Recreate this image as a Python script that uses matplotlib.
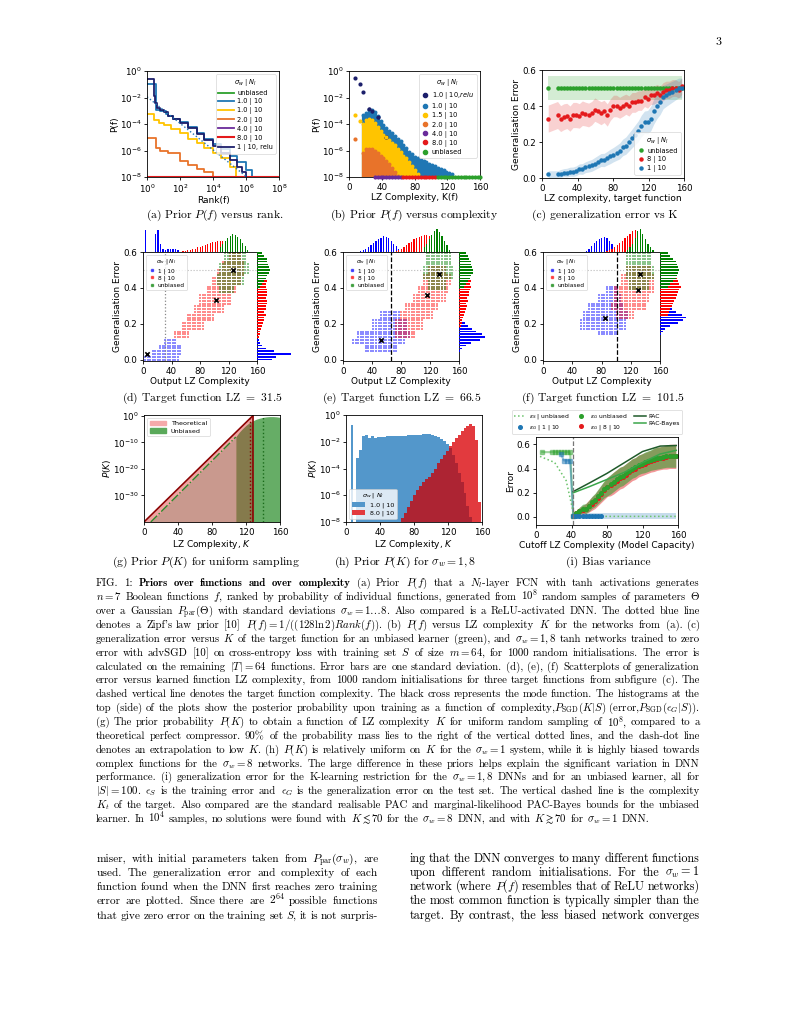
import numpy as np
import matplotlib
matplotlib.use("Agg")
import matplotlib.pyplot as plt
from matplotlib.lines import Line2D
from matplotlib.patches import Patch

W, H = 791, 1024

# ---------------- DATA ----------------
# (a) prior P(f) versus rank
a_rank_unb = [1, 1e8]
a_p_unb = [1e-8, 1e-8]
a_rank_s1 = [1, 3.5, 6, 14, 20, 40, 100, 300, 1e3, 3e3, 1e4, 3e4, 1e5, 3e5, 1e6, 2.4e6]
a_p_s1 = [0.1, 1.2e-3, 1e-3, 6e-4, 4e-4, 2.5e-4, 1.3e-4, 6e-5, 2.2e-5, 8e-6, 3e-6, 1.2e-6, 4e-7, 1.3e-7, 3.5e-8, 1e-8]
a_rank_s15 = [1, 2.5, 5, 10, 30, 100, 300, 1e3, 3e3, 1e4, 3e4, 1e5, 2.5e5]
a_p_s15 = [6e-4, 2e-4, 1.2e-4, 8e-5, 4e-5, 2e-5, 8e-6, 4e-6, 1.5e-6, 7e-7, 2.5e-7, 6e-8, 1e-8]
a_rank_s2 = [1, 3.5, 6, 20, 100, 300, 1e3, 3e3, 1e4]
a_p_s2 = [9e-6, 1.5e-6, 1e-6, 6e-7, 1.5e-7, 8e-8, 4e-8, 2.5e-8, 1e-8]
a_rank_s4 = [1, 5e6]
a_p_s4 = [1e-8, 1e-8]
a_rank_s8 = [1, 1e8]
a_p_s8 = [1e-8, 1e-8]
a_rank_relu = [1, 2.5, 3.2, 4, 6, 10, 20, 40, 100, 300, 1e3, 3e3, 1e4, 3e4, 1e5, 3e5, 6e5, 1e6]
a_p_relu = [0.25, 1.2e-2, 4e-3, 1.5e-3, 1.2e-3, 8e-4, 4e-4, 2.5e-4, 1.2e-4, 5e-5, 1.8e-5, 6e-6, 2.2e-6, 7e-7, 2e-7, 6e-8, 2.5e-8, 1e-8]
zipf_rank = [1, 1e6]
zipf_p = [1.13e-2, 1.13e-8]
a_labels = ["unbiased", "1.0 | 10", "1.0 | 10", "2.0 | 10", "4.0 | 10", "8.0 | 10", "1 | 10, relu"]

# (b) prior P(f) versus LZ complexity (upper envelopes, log10 P)
b_relu_K = [7, 14, 17.5, 24.5, 28, 35, 45.5]
b_relu_logp = [-0.55, -1.0, -1.6, -2.9, -3.0, -3.5, -5.0]
b_s1_K = [17.5, 21, 24.5, 28, 31.5, 35, 38.5, 42, 45.5, 49, 52.5, 56, 59.5, 63, 66.5, 70, 73.5, 77,
          80.5, 84, 87.5, 91, 94.5, 98, 101.5, 105, 108.5, 112, 115.5, 119, 122.5, 126]
b_s1_logp = [-3.3, -3.2, -2.95, -2.95, -3.1, -3.4, -3.8, -4.1, -4.3, -4.5, -4.7, -4.9, -5.1, -5.3, -5.6,
             -5.8, -6.1, -6.3, -6.5, -6.6, -6.7, -6.8, -6.9, -7.0, -7.1, -7.2, -7.3, -7.4, -7.5, -7.6, -7.7, -7.8]
b_s15_K = [7, 14, 17.5, 21, 24.5, 28, 31.5, 35, 38.5, 42, 45.5, 49, 52.5, 56, 59.5, 63, 66.5, 70, 73.5,
           77, 80.5, 84]
b_s15_logp = [-3.3, -3.75, -4.0, -3.7, -3.65, -3.7, -3.9, -4.2, -4.5, -4.8, -5.0, -5.2, -5.4, -5.6, -5.9,
              -6.1, -6.4, -6.6, -6.9, -7.2, -7.5, -7.8]
b_s2_K = [7, 17.5, 21, 24.5, 28, 31.5, 35, 38.5, 42, 45.5, 49, 52.5, 56, 59.5]
b_s2_logp = [-5.15, -6.2, -5.9, -5.85, -5.9, -6.0, -6.2, -6.4, -6.6, -6.8, -7.0, -7.3, -7.6, -7.9]
b_s4_K = [31.5, 35, 38.5, 42, 45.5, 49, 52.5, 56, 59.5, 63]
b_s8_K = [66.5, 70, 73.5, 77, 80.5, 84, 87.5, 91, 94.5, 98, 101.5, 105]
b_unb_K = [108.5, 112, 115.5, 119, 122.5, 126, 129.5, 133, 136.5, 140, 143.5, 147, 150.5, 154, 157.5, 160]
b_labels = ["1.0 | 10,$relu$", "1.0 | 10", "1.5 | 10", "2.0 | 10", "4.0 | 10", "8.0 | 10", "unbiased"]

# (c) generalization error vs target complexity
c_K = [7, 17.5, 21, 24.5, 28, 31.5, 35, 38.5, 42, 45.5, 49, 52.5, 56, 59.5, 63, 66.5, 70, 73.5, 77, 80.5,
       84, 87.5, 91, 94.5, 98, 101.5, 105, 108.5, 112, 115.5, 119, 122.5, 126, 129.5, 133, 136.5, 140,
       143.5, 147, 150.5, 154, 157.5]
c_unb = [0.5] * 42
c_unb_sd = [0.065] * 42
c_s8 = [0.33, 0.35, 0.33, 0.34, 0.345, 0.33, 0.35, 0.35, 0.345, 0.36, 0.355, 0.35, 0.36, 0.38, 0.37, 0.36,
        0.37, 0.35, 0.38, 0.40, 0.40, 0.39, 0.40, 0.41, 0.40, 0.42, 0.42, 0.43, 0.43, 0.45, 0.44, 0.46,
        0.46, 0.47, 0.46, 0.48, 0.49, 0.49, 0.50, 0.50, 0.49, 0.51]
c_s8_sd = [0.075, 0.075, 0.072, 0.072, 0.07, 0.07, 0.07, 0.07, 0.068, 0.068, 0.066, 0.066, 0.065, 0.065,
           0.064, 0.064, 0.062, 0.062, 0.06, 0.06, 0.06, 0.058, 0.058, 0.056, 0.056, 0.055, 0.055, 0.054,
           0.054, 0.053, 0.052, 0.052, 0.05, 0.05, 0.05, 0.05, 0.048, 0.048, 0.047, 0.046, 0.046, 0.045]
c_s1 = [0.02, 0.02, 0.025, 0.03, 0.03, 0.035, 0.035, 0.04, 0.05, 0.05, 0.06, 0.065, 0.07, 0.08, 0.09, 0.10,
        0.10, 0.11, 0.12, 0.13, 0.14, 0.15, 0.17, 0.18, 0.20, 0.22, 0.24, 0.26, 0.29, 0.31, 0.31, 0.33,
        0.37, 0.40, 0.42, 0.45, 0.46, 0.47, 0.48, 0.49, 0.50, 0.50]
c_s1_sd = [0.02, 0.02, 0.022, 0.022, 0.024, 0.025, 0.026, 0.027, 0.028, 0.03, 0.03, 0.032, 0.033, 0.034,
           0.035, 0.036, 0.037, 0.038, 0.04, 0.04, 0.042, 0.044, 0.046, 0.048, 0.05, 0.052, 0.055, 0.058,
           0.06, 0.062, 0.065, 0.068, 0.07, 0.07, 0.068, 0.065, 0.062, 0.06, 0.058, 0.056, 0.055, 0.055]

# shared grids of LZ complexity values and error values (|T| = 64)
lz_levels = [3.5, 7.0, 10.5, 14.0, 17.5, 21.0, 24.5, 28.0, 31.5, 35.0, 38.5, 42.0, 45.5, 49.0, 52.5, 56.0,
             59.5, 63.0, 66.5, 70.0, 73.5, 77.0, 80.5, 84.0, 87.5, 91.0, 94.5, 98.0, 101.5, 105.0, 108.5,
             112.0, 115.5, 119.0, 122.5, 126.0, 129.5, 133.0, 136.5, 140.0, 143.5, 147.0, 150.5, 154.0, 157.5]
err_levels = [0.0, 0.016, 0.031, 0.047, 0.062, 0.078, 0.094, 0.109, 0.125, 0.141, 0.156, 0.172, 0.188,
              0.203, 0.219, 0.234, 0.25, 0.266, 0.281, 0.297, 0.312, 0.328, 0.344, 0.359, 0.375, 0.391,
              0.406, 0.422, 0.438, 0.453, 0.469, 0.484, 0.5, 0.516, 0.531, 0.547, 0.562, 0.578, 0.594]

# (d) target LZ = 31.5 : cloud rows (err_lo, err_hi, K_lo, K_hi)
d_target = 31.5
d_blue_rows = [(0.0, 0.03, 3.5, 49), (0.03, 0.06, 14, 52.5), (0.06, 0.09, 24.5, 52.5), (0.09, 0.125, 31.5, 45.5)]
d_red_rows = [(0.11, 0.16, 45.5, 63), (0.16, 0.21, 56, 84), (0.21, 0.26, 63, 98), (0.26, 0.31, 73.5, 112),
              (0.31, 0.36, 80.5, 122.5), (0.36, 0.41, 91, 129.5), (0.41, 0.46, 98, 136.5),
              (0.46, 0.51, 105, 140), (0.51, 0.56, 112, 140), (0.56, 0.6, 122.5, 136.5)]
d_green_rows = [(0.36, 0.42, 108.5, 126), (0.42, 0.48, 105, 140), (0.48, 0.54, 108.5, 147), (0.54, 0.6, 115.5, 143.5)]
d_mode_K = [5, 103, 127]
d_mode_err = [0.03, 0.33, 0.5]
d_top_blue_K = [3.5, 17.5, 21, 24.5, 28, 31.5, 35, 38.5, 42, 45.5, 49]
d_top_blue_h = [0.95, 0.8, 0.95, 0.35, 0.12, 0.1, 0.12, 0.14, 0.15, 0.12, 0.08]
d_top_red_K = [56, 59.5, 63, 66.5, 70, 73.5, 77, 80.5, 84, 87.5, 91, 94.5, 98, 101.5, 105, 108.5, 112, 115.5,
               119, 122.5, 126, 129.5]
d_top_red_h = [0.04, 0.05, 0.08, 0.1, 0.12, 0.15, 0.2, 0.22, 0.28, 0.3, 0.35, 0.38, 0.42, 0.45, 0.47, 0.5,
               0.48, 0.42, 0.4, 0.32, 0.25, 0.15]
d_top_green_K = [108.5, 112, 115.5, 119, 122.5, 126, 129.5, 133, 136.5, 140, 143.5, 147]
d_top_green_h = [0.2, 0.35, 0.5, 0.6, 0.7, 0.78, 0.72, 0.65, 0.55, 0.4, 0.25, 0.1]
d_side_blue_e = [0.0, 0.016, 0.031, 0.047, 0.062, 0.078, 0.094, 0.109]
d_side_blue_w = [0.45, 0.55, 1.0, 0.5, 0.25, 0.15, 0.1, 0.05]
d_side_red_e = [0.125, 0.141, 0.156, 0.172, 0.188, 0.203, 0.219, 0.234, 0.25, 0.266, 0.281, 0.297, 0.312,
                0.328, 0.344, 0.359, 0.375, 0.391, 0.406, 0.422, 0.438, 0.453, 0.469, 0.484, 0.5]
d_side_red_w = [0.05, 0.08, 0.1, 0.12, 0.15, 0.18, 0.2, 0.22, 0.25, 0.22, 0.27, 0.25, 0.28, 0.3, 0.27, 0.3,
                0.28, 0.3, 0.27, 0.25, 0.28, 0.22, 0.2, 0.18, 0.15]
d_side_green_e = [0.406, 0.422, 0.438, 0.453, 0.469, 0.484, 0.5, 0.516, 0.531, 0.547, 0.562, 0.578, 0.594]
d_side_green_w = [0.1, 0.15, 0.2, 0.25, 0.3, 0.35, 0.38, 0.35, 0.33, 0.3, 0.28, 0.22, 0.15]

# (e) target LZ = 66.5
e_target = 66.5
e_blue_rows = [(0.04, 0.08, 31.5, 73.5), (0.08, 0.12, 14, 84), (0.12, 0.17, 21, 91), (0.17, 0.22, 42, 87.5),
               (0.22, 0.28, 52.5, 77)]
e_red_rows = [(0.11, 0.17, 73.5, 98), (0.17, 0.22, 73.5, 108.5), (0.22, 0.27, 80.5, 122.5),
              (0.27, 0.32, 87.5, 129.5), (0.32, 0.37, 98, 140), (0.37, 0.42, 105, 143.5),
              (0.42, 0.47, 112, 147), (0.47, 0.53, 119, 140)]
e_green_rows = [(0.39, 0.45, 119, 140), (0.45, 0.53, 112, 150.5), (0.53, 0.6, 115.5, 147)]
e_mode_K = [53, 116, 132]
e_mode_err = [0.11, 0.36, 0.48]
e_top_blue_K = [21, 24.5, 28, 31.5, 35, 38.5, 42, 45.5, 49, 52.5, 56, 59.5, 63, 66.5, 70, 73.5, 77, 80.5, 84]
e_top_blue_h = [0.02, 0.05, 0.1, 0.15, 0.2, 0.3, 0.4, 0.5, 0.55, 0.62, 0.68, 0.66, 0.6, 0.5, 0.35, 0.25,
                0.15, 0.08, 0.04]
e_top_red_K = [73.5, 77, 80.5, 84, 87.5, 91, 94.5, 98, 101.5, 105, 108.5, 112, 115.5, 119, 122.5, 126,
               129.5, 133, 136.5]
e_top_red_h = [0.05, 0.1, 0.15, 0.22, 0.3, 0.38, 0.45, 0.55, 0.6, 0.65, 0.7, 0.72, 0.75, 0.7, 0.6, 0.45,
               0.3, 0.15, 0.05]
e_top_green_K = [112, 115.5, 119, 122.5, 126, 129.5, 133, 136.5, 140, 143.5, 147]
e_top_green_h = [0.2, 0.35, 0.55, 0.75, 0.9, 1.0, 0.85, 0.7, 0.5, 0.3, 0.1]
e_side_blue_e = [0.047, 0.062, 0.078, 0.094, 0.109, 0.125, 0.141, 0.156, 0.172, 0.188, 0.203, 0.219, 0.234, 0.25]
e_side_blue_w = [0.05, 0.1, 0.25, 0.45, 0.8, 1.0, 0.9, 0.65, 0.5, 0.35, 0.22, 0.12, 0.06, 0.03]
e_side_red_e = [0.188, 0.203, 0.219, 0.234, 0.25, 0.266, 0.281, 0.297, 0.312, 0.328, 0.344, 0.359, 0.375,
                0.391, 0.406, 0.422, 0.438, 0.453, 0.469, 0.484, 0.5]
e_side_red_w = [0.08, 0.1, 0.12, 0.15, 0.2, 0.22, 0.25, 0.3, 0.28, 0.35, 0.32, 0.38, 0.4, 0.42, 0.45, 0.42,
                0.45, 0.4, 0.42, 0.38, 0.35]
e_side_green_e = [0.406, 0.422, 0.438, 0.453, 0.469, 0.484, 0.5, 0.516, 0.531, 0.547, 0.562, 0.578, 0.594]
e_side_green_w = [0.2, 0.28, 0.35, 0.42, 0.48, 0.52, 0.55, 0.5, 0.48, 0.45, 0.4, 0.35, 0.28]

# (f) target LZ = 101.5
f_target = 101.5
f_blue_rows = [(0.13, 0.17, 77, 101.5), (0.17, 0.22, 52.5, 112), (0.22, 0.27, 56, 115.5), (0.27, 0.32, 63, 108.5),
               (0.32, 0.37, 77, 105), (0.37, 0.42, 87.5, 101.5)]
f_red_rows = [(0.22, 0.27, 101.5, 122.5), (0.27, 0.32, 94.5, 140), (0.32, 0.37, 98, 143.5),
              (0.37, 0.42, 98, 150.5), (0.42, 0.47, 108.5, 150.5), (0.47, 0.53, 115.5, 147)]
f_green_rows = [(0.39, 0.45, 119, 143.5), (0.45, 0.53, 115.5, 150.5), (0.53, 0.6, 115.5, 147)]
f_mode_K = [85, 130, 133]
f_mode_err = [0.23, 0.39, 0.48]
f_top_blue_K = [59.5, 63, 66.5, 70, 73.5, 77, 80.5, 84, 87.5, 91, 94.5, 98, 101.5]
f_top_blue_h = [0.05, 0.12, 0.25, 0.4, 0.5, 0.55, 0.62, 0.65, 0.6, 0.5, 0.35, 0.2, 0.08]
f_top_red_K = [87.5, 91, 94.5, 98, 101.5, 105, 108.5, 112, 115.5, 119, 122.5, 126, 129.5, 133, 136.5, 140,
               143.5, 147]
f_top_red_h = [0.05, 0.1, 0.15, 0.2, 0.3, 0.4, 0.5, 0.6, 0.7, 0.8, 0.9, 0.95, 0.9, 0.75, 0.55, 0.35, 0.2, 0.08]
f_top_green_K = [115.5, 119, 122.5, 126, 129.5, 133, 136.5, 140, 143.5, 147, 150.5]
f_top_green_h = [0.1, 0.2, 0.35, 0.6, 0.9, 1.0, 0.8, 0.55, 0.35, 0.2, 0.08]
f_side_blue_e = [0.141, 0.156, 0.172, 0.188, 0.203, 0.219, 0.234, 0.25, 0.266, 0.281, 0.297, 0.312, 0.328, 0.344]
f_side_blue_w = [0.05, 0.1, 0.2, 0.4, 0.7, 0.9, 1.0, 0.85, 0.6, 0.45, 0.3, 0.2, 0.1, 0.05]
f_side_red_e = [0.25, 0.266, 0.281, 0.297, 0.312, 0.328, 0.344, 0.359, 0.375, 0.391, 0.406, 0.422, 0.438,
                0.453, 0.469, 0.484, 0.5, 0.516, 0.531, 0.547]
f_side_red_w = [0.3, 0.35, 0.4, 0.45, 0.5, 0.55, 0.6, 0.65, 0.7, 0.75, 0.8, 0.75, 0.7, 0.65, 0.6, 0.55,
                0.5, 0.45, 0.4, 0.3]
f_side_green_e = [0.406, 0.422, 0.438, 0.453, 0.469, 0.484, 0.5, 0.516, 0.531, 0.547, 0.562, 0.578, 0.594]
f_side_green_w = [0.3, 0.4, 0.5, 0.6, 0.65, 0.7, 0.75, 0.7, 0.65, 0.6, 0.5, 0.4, 0.3]

# (g) prior P(K) for uniform sampling (log10 P)
g_theory_K = [0, 128]
g_theory_logp = [-40, 0]
g_extrap_K = [8, 108]
g_extrap_logp = [-40, -8]
g_unb_K = [108, 112, 116, 120, 124, 128, 132, 136, 140, 144, 148, 152, 156, 160]
g_unb_logp = [-7.9, -6.2, -4.8, -3.6, -2.6, -1.9, -1.3, -0.9, -0.6, -0.4, -0.3, -0.3, -0.4, -0.6]
g_mass90_theory = 125
g_mass90_unb = 140

# (h) prior P(K) for sigma_w = 1, 8 (log10 P per bin)
h_s1_K = [7, 14, 17.5, 21, 24.5, 28, 31.5, 35, 38.5, 42, 45.5, 49, 52.5, 56, 59.5, 63, 66.5, 70, 73.5, 77,
          80.5, 84, 87.5, 91, 94.5, 98, 101.5, 105, 108.5, 112, 115.5, 119, 122.5, 126, 129.5, 133, 136.5,
          140, 143.5, 147]
h_s1_logp = [-0.75, -3.2, -2.6, -1.6, -1.5, -1.75, -1.6, -1.7, -1.65, -1.65, -1.65, -1.6, -1.6, -1.6, -1.6,
             -1.58, -1.55, -1.55, -1.52, -1.5, -1.5, -1.48, -1.47, -1.45, -1.45, -1.45, -1.5, -1.55, -1.65,
             -1.8, -1.95, -2.15, -2.5, -3.0, -3.6, -4.3, -5.0, -5.8, -6.8, -7.6]
h_s8_K = [66.5, 70, 73.5, 77, 80.5, 84, 87.5, 91, 94.5, 98, 101.5, 105, 108.5, 112, 115.5, 119, 122.5, 126,
          129.5, 133, 136.5, 140, 143.5, 147, 150.5, 154, 157.5]
h_s8_logp = [-7.7, -7.3, -6.9, -6.4, -6.0, -5.6, -5.3, -5.0, -4.8, -4.6, -4.3, -4.0, -3.6, -3.3, -3.0, -2.7,
             -2.3, -2.0, -1.75, -1.5, -1.2, -1.0, -0.8, -0.65, -0.85, -1.9, -6.5]

# (i) bias variance
i_K = [42, 45.5, 49, 52.5, 56, 59.5, 63, 66.5, 70, 73.5, 77, 80.5, 84, 87.5, 91, 94.5, 98, 101.5, 105,
       108.5, 112, 115.5, 119, 122.5, 126, 129.5, 133, 136.5, 140, 143.5, 147, 150.5, 154, 157.5]
i_unb = [0.01, 0.03, 0.05, 0.07, 0.07, 0.09, 0.12, 0.14, 0.17, 0.20, 0.23, 0.25, 0.27, 0.29, 0.31, 0.33,
         0.34, 0.36, 0.38, 0.40, 0.41, 0.43, 0.44, 0.45, 0.46, 0.47, 0.48, 0.485, 0.49, 0.495, 0.5, 0.5, 0.5, 0.5]
i_unb_sd = [0.02, 0.025, 0.03, 0.035, 0.04, 0.045, 0.05, 0.055, 0.06, 0.065, 0.07, 0.075, 0.08, 0.08, 0.08,
            0.08, 0.08, 0.08, 0.08, 0.08, 0.08, 0.08, 0.08, 0.085, 0.085, 0.085, 0.09, 0.09, 0.09, 0.09, 0.09,
            0.09, 0.09, 0.09]
i_s8 = [0.01, 0.03, 0.05, 0.06, 0.07, 0.09, 0.11, 0.13, 0.16, 0.19, 0.22, 0.25, 0.26, 0.28, 0.30, 0.32,
        0.33, 0.35, 0.37, 0.39, 0.40, 0.42, 0.43, 0.44, 0.45, 0.46, 0.47, 0.48, 0.485, 0.49, 0.495, 0.5, 0.5, 0.5]
i_s8_sd = [0.02, 0.025, 0.03, 0.035, 0.04, 0.05, 0.055, 0.06, 0.065, 0.07, 0.075, 0.08, 0.085, 0.09, 0.09,
           0.09, 0.09, 0.09, 0.09, 0.09, 0.09, 0.09, 0.09, 0.09, 0.09, 0.09, 0.095, 0.095, 0.095, 0.095,
           0.1, 0.1, 0.1, 0.1]
i_s1_K = [42, 45.5, 49, 52.5, 56, 59.5, 63, 66.5, 70, 73.5]
i_s1 = [0.005, 0.01, 0.01, 0.008, 0.01, 0.01, 0.012, 0.01, 0.01, 0.012]
i_s1_band_K = [42, 157.5]
i_s1_lo = [-0.02, -0.02]
i_s1_hi = [0.035, 0.035]
i_low_K = [7, 17.5, 21, 24.5, 28, 31.5, 35, 38.5, 42]
i_low_unb = [0.535, 0.535, 0.535, 0.535, 0.535, 0.535, 0.535, 0.535, 0.01]
i_low_s1_K = [28, 31.5, 35, 38.5, 42]
i_low_s1 = [0.52, 0.465, 0.465, 0.465, 0.005]
i_epsS_K = [4.5, 21, 34, 43, 157.5]
i_epsS = [0.5, 0.45, 0.30, 0.005, 0.005]
i_pac_K = [42, 60, 80, 100, 120, 140, 158]
i_pac = [0.21, 0.28, 0.36, 0.45, 0.54, 0.585, 0.59]
i_pacb_K = [42, 60, 80, 100, 120, 140, 158]
i_pacb = [0.2, 0.25, 0.31, 0.37, 0.45, 0.52, 0.55]
i_target = 42

# ---------------- STYLE ----------------
plt.rcParams['font.family'] = ['DejaVu Sans']
plt.rcParams['mathtext.fontset'] = 'dejavusans'
plt.rcParams['axes.linewidth'] = 0.6
plt.rcParams['legend.fancybox'] = True

TICK = 6.3
LBL = 6.5
C_UNB = '#2ca02c'
C_S1 = '#1f77b4'
C_S15 = '#ffc400'
C_S2 = '#e8732a'
C_S4 = '#6a2b9a'
C_S8 = '#e41a1c'
C_RELU = '#1c1f6b'

fig = plt.figure(figsize=(W / 100, H / 100), dpi=100)


def axbox(l, t, r, b):
    return fig.add_axes([l / W, 1 - b / H, (r - l) / W, (b - t) / H])


def style(ax):
    ax.tick_params(labelsize=TICK, length=2.5, width=0.6, pad=1.5)
    for s in ax.spines.values():
        s.set_linewidth(0.6)


def small_legend(ax, **kw):
    lg = ax.legend(**kw)
    lg.get_frame().set_linewidth(0.5)
    return lg


# ---------------- (a) ----------------
ax = axbox(147, 71, 279, 177)
ax.set_xscale('log')
ax.set_yscale('log')
ax.plot(a_rank_unb, a_p_unb, color=C_UNB, lw=1.3, label=a_labels[0])
ax.plot(a_rank_s1, a_p_s1, color=C_S1, lw=1.3, drawstyle='steps-post', label=a_labels[1])
ax.plot(a_rank_s15, a_p_s15, color=C_S15, lw=1.3, drawstyle='steps-post', label=a_labels[2])
ax.plot(a_rank_s2, a_p_s2, color=C_S2, lw=1.3, drawstyle='steps-post', label=a_labels[3])
ax.plot(a_rank_s4, a_p_s4, color=C_S4, lw=1.3, label=a_labels[4])
ax.plot(a_rank_s8, a_p_s8, color=C_S8, lw=1.5, label=a_labels[5])
ax.plot(a_rank_relu, a_p_relu, color=C_RELU, lw=1.3, drawstyle='steps-post', label=a_labels[6])
ax.plot(zipf_rank, zipf_p, color=C_S1, lw=1.0, ls=':')
ax.set_xlim(1, 1e8)
ax.set_ylim(1e-8, 1)
ax.set_xticks([1e0, 1e2, 1e4, 1e6, 1e8])
ax.set_yticks([1e0, 1e-2, 1e-4, 1e-6, 1e-8])
ax.minorticks_off()
ax.set_xlabel('Rank(f)', fontsize=LBL, labelpad=1)
ax.set_ylabel('P(f)', fontsize=LBL, labelpad=0)
style(ax)
small_legend(ax, title=r'$\sigma_w$ | $N_l$', fontsize=4.8, title_fontsize=4.8, loc='upper right',
             handlelength=2.3, borderpad=0.4, labelspacing=0.32, handletextpad=0.5)

# ---------------- (b) ----------------
ax = axbox(349, 71, 480, 177)
ax.set_yscale('log')


def cloud_b(K, logp, color, lw=2.3):
    P = 10 ** np.array(logp, dtype=float)
    ax.vlines(K, 1e-8, P, color=color, lw=lw)
    ax.scatter(K, P, s=8, color=color, lw=0, zorder=3)


ax.scatter(b_relu_K, 10 ** np.array(b_relu_logp), s=9, color=C_RELU, lw=0, zorder=3)
cloud_b(b_s1_K, b_s1_logp, C_S1)
ax.scatter(b_relu_K[3:], 10 ** np.array(b_relu_logp[3:]), s=8, color=C_RELU, lw=0, zorder=3)
cloud_b(b_s15_K[2:], b_s15_logp[2:], C_S15)
ax.scatter(b_s15_K[:2], 10 ** np.array(b_s15_logp[:2]), s=9, color=C_S15, lw=0, zorder=3)
cloud_b(b_s2_K[1:], b_s2_logp[1:], C_S2)
ax.scatter(b_s2_K[:1], 10 ** np.array(b_s2_logp[:1]), s=9, color=C_S2, lw=0, zorder=3)
for Ks, c in [(b_s4_K, C_S4), (b_s8_K, C_S8), (b_unb_K, C_UNB)]:
    ax.scatter(Ks, [1e-8] * len(Ks), s=9, color=c, lw=0, zorder=4, clip_on=False)
ax.set_xlim(0, 160)
ax.set_ylim(1e-8, 1)
ax.set_xticks([0, 40, 80, 120, 160])
ax.set_yticks([1e0, 1e-2, 1e-4, 1e-6, 1e-8])
ax.minorticks_off()
ax.set_xlabel('LZ Complexity, K(f)', fontsize=LBL, labelpad=1)
ax.set_ylabel('P(f)', fontsize=LBL, labelpad=0)
style(ax)
hb = [Line2D([], [], ls='', marker='o', ms=3, color=c) for c in [C_RELU, C_S1, C_S15, C_S2, C_S4, C_S8, C_UNB]]
small_legend(ax, handles=hb, labels=b_labels, title=r'$\sigma_w$ | $N_l$', fontsize=4.8, title_fontsize=4.8,
             loc='upper right', handlelength=1.2, borderpad=0.4, labelspacing=0.32, handletextpad=0.4)

# ---------------- (c) ----------------
ax = axbox(542, 70, 684, 178)
for m, sd, c, lab in [(c_unb, c_unb_sd, C_UNB, 'unbiased'), (c_s8, c_s8_sd, C_S8, '8 | 10'),
                      (c_s1, c_s1_sd, C_S1, '1 | 10')]:
    m = np.array(m)
    sd = np.array(sd)
    ax.fill_between(c_K, m - sd, m + sd, color=c, alpha=0.2, lw=0)
    ax.plot(c_K, m, ls='', marker='o', ms=2.2, color=c, label=lab)
ax.set_xlim(0, 160)
ax.set_ylim(0, 0.6)
ax.set_xticks([0, 40, 80, 120, 160])
ax.set_yticks([0.0, 0.2, 0.4, 0.6])
ax.set_xlabel('LZ complexity, target function', fontsize=LBL, labelpad=1)
ax.set_ylabel('Generalisation Error', fontsize=LBL, labelpad=1)
style(ax)
small_legend(ax, title=r'$\sigma_w$ | $N_l$', fontsize=4.8, title_fontsize=4.8, loc='lower right',
             handlelength=1.2, borderpad=0.4, labelspacing=0.32, handletextpad=0.4)


# ---------------- (d), (e), (f) ----------------
def grid_points(rows):
    ks, es = [], []
    for (elo, ehi, klo, khi) in rows:
        for e in err_levels:
            if elo <= e < ehi:
                for k in lz_levels:
                    if klo <= k <= khi:
                        ks.append(k)
                        es.append(e)
    return ks, es


def scatter_panel(l, r, side_w, rows, tops, sides, modes, target, tstyle):
    t, b = 252, 361
    ax = axbox(l, t, r, b)
    for rws, c in zip(rows, ['blue', 'red', 'green']):
        ks, es = grid_points(rws)
        ax.scatter(ks, es, s=3.0, marker='s', color=c, alpha=0.45, lw=0)
    ax.scatter(modes[0], modes[1], s=10, marker='x', color='black', lw=1.2, zorder=5)
    ax.axvline(target, color=tstyle[0], ls=tstyle[1], lw=0.9)
    ax.axhline(0.5, color='#bbbbbb', ls=':', lw=0.8)
    ax.set_xlim(0, 160)
    ax.set_ylim(-0.008, 0.6)
    ax.set_xticks([0, 40, 80, 120, 160])
    ax.set_yticks([0.0, 0.2, 0.4, 0.6])
    ax.set_xlabel('Output LZ Complexity', fontsize=LBL, labelpad=1)
    ax.set_ylabel('Generalisation Error', fontsize=LBL, labelpad=1)
    style(ax)
    hd = [Line2D([], [], ls='', marker='s', ms=1.6, color=c, alpha=0.6) for c in ['blue', 'red', 'green']]
    small_legend(ax, handles=hd, labels=['1 | 10', '8 | 10', 'unbiased'], title=r'$\sigma_w$ | $N_l$',
                 fontsize=4.2, title_fontsize=4.2, loc='upper left', handlelength=1.2, borderpad=0.4,
                 labelspacing=0.3, handletextpad=0.4)
    axt = axbox(l, 229, r, t)
    for (K, h), c in zip(tops, ['blue', 'red', 'green']):
        axt.bar(K, h, width=1.7, color=c, lw=0)
    axt.set_xlim(0, 160)
    axt.set_ylim(0, 1.0)
    axt.axis('off')
    axs = axbox(r, t, r + side_w, b)
    for (e, w), c in zip(sides, ['blue', 'red', 'green']):
        axs.barh(e, w, height=0.0095, color=c, lw=0)
    axs.set_ylim(-0.008, 0.6)
    axs.set_xlim(0, 1.0)
    axs.axis('off')


scatter_panel(143, 257, 34, [d_blue_rows, d_red_rows, d_green_rows],
              [(d_top_blue_K, d_top_blue_h), (d_top_red_K, d_top_red_h), (d_top_green_K, d_top_green_h)],
              [(d_side_blue_e, d_side_blue_w), (d_side_red_e, d_side_red_w), (d_side_green_e, d_side_green_w)],
              (d_mode_K, d_mode_err), d_target, ('#888888', ':'))
scatter_panel(343, 459, 26, [e_blue_rows, e_red_rows, e_green_rows],
              [(e_top_blue_K, e_top_blue_h), (e_top_red_K, e_top_red_h), (e_top_green_K, e_top_green_h)],
              [(e_side_blue_e, e_side_blue_w), (e_side_red_e, e_side_red_w), (e_side_green_e, e_side_green_w)],
              (e_mode_K, e_mode_err), e_target, ('black', '--'))
scatter_panel(543, 660, 26, [f_blue_rows, f_red_rows, f_green_rows],
              [(f_top_blue_K, f_top_blue_h), (f_top_red_K, f_top_red_h), (f_top_green_K, f_top_green_h)],
              [(f_side_blue_e, f_side_blue_w), (f_side_red_e, f_side_red_w), (f_side_green_e, f_side_green_w)],
              (f_mode_K, f_mode_err), f_target, ('black', '--'))

# ---------------- (g) ----------------
ax = axbox(144, 415, 280, 522)
ax.set_yscale('log')
YB = 1e-40
th_P = 10 ** np.array(g_theory_logp, dtype=float)
ax.fill_between(g_theory_K, YB, th_P, color='#f0a4a2', lw=0)
ax.fill_between(g_extrap_K, YB, 10 ** np.array(g_extrap_logp, dtype=float), color='#c9998e', lw=0)
gK = np.array(g_unb_K, dtype=float)
gP = 10 ** np.array(g_unb_logp, dtype=float)
inside = gK <= g_theory_K[-1]
outside = gK >= g_theory_K[-1]
ax.fill_between(gK[inside], YB, gP[inside], color='#857a4c', lw=0)
ax.fill_between(gK[outside], YB, gP[outside], color='#66ad66', lw=0)
ax.plot(g_theory_K, th_P, color='#8b0000', lw=1.2)
ax.plot([g_theory_K[-1]] * 2, [YB, th_P[-1]], color='#8b0000', lw=1.2)
ax.plot(g_extrap_K, 10 ** np.array(g_extrap_logp, dtype=float), color='#2a8a2a', lw=1.0, ls='-.')
ax.axvline(g_mass90_theory, color='#8b0000', ls=':', lw=1.0)
ax.axvline(g_mass90_unb, color='#1a6b1a', ls=':', lw=1.0)
ax.set_xlim(0, 160)
ax.set_ylim(YB, 10 ** 0.3)
ax.set_xticks([0, 40, 80, 120, 160])
ax.set_yticks([1e0, 1e-10, 1e-20, 1e-30])
ax.minorticks_off()
ax.set_xlabel('LZ Complexity, $K$', fontsize=LBL, labelpad=1)
ax.set_ylabel('$P(K)$', fontsize=LBL, labelpad=0)
style(ax)
small_legend(ax, handles=[Patch(color='#f4a9a9'), Patch(color='#5aa95a')], labels=['Theoretical', 'Unbiased'],
             fontsize=4.6, loc='upper left', handlelength=2.5, borderpad=0.4, labelspacing=0.3)

# ---------------- (h) ----------------
ax = axbox(346, 415, 482, 522)
ax.set_yscale('log')
hs1 = 10 ** np.array(h_s1_logp, dtype=float)
wid = [2.2] + [3.5] * (len(h_s1_K) - 1)
ax.bar(h_s1_K, hs1 - 1e-9, bottom=1e-9, width=wid, color='#5397cb', lw=0, label='1.0 | 10')
hs8 = 10 ** np.array(h_s8_logp, dtype=float)
ax.bar(h_s8_K, hs8 - 1e-9, bottom=1e-9, width=3.5, color='#e23a3e', lw=0, label='8.0 | 10')
s1_by_K = dict(zip(h_s1_K, hs1))
overlap = [min(p, s1_by_K.get(k, 0.0)) for k, p in zip(h_s8_K, hs8)]
ax.bar(h_s8_K, np.maximum(np.array(overlap) - 1e-9, 0), bottom=1e-9, width=3.5, color='#ad2433', lw=0)
ax.set_xlim(0, 160)
ax.set_ylim(1e-8, 1)
ax.set_xticks([0, 40, 80, 120, 160])
ax.set_yticks([1e0, 1e-2, 1e-4, 1e-6, 1e-8])
ax.minorticks_off()
ax.set_xlabel('LZ Complexity, $K$', fontsize=LBL, labelpad=1)
ax.set_ylabel('$P(K)$', fontsize=LBL, labelpad=0)
style(ax)
small_legend(ax, title=r'$\sigma_w$ | $N_l$', fontsize=4.6, title_fontsize=4.6, loc='lower left',
             handlelength=2.0, borderpad=0.4, labelspacing=0.3)

# ---------------- (i) ----------------
ax = axbox(536, 437, 678, 525)
ax.fill_between(i_s1_band_K, i_s1_lo, i_s1_hi, color=C_S1, alpha=0.25, lw=0)
ms8 = np.array(i_s8)
sd8 = np.array(i_s8_sd)
ax.fill_between(i_K, ms8 - sd8, ms8 + sd8, color='#e41a1c', alpha=0.45, lw=0)
mu = np.array(i_unb)
sdu = np.array(i_unb_sd)
ax.fill_between(i_K, mu - sdu, mu + sdu, color=C_UNB, alpha=0.55, lw=0)
ax.plot(i_low_K, i_low_unb, color=C_UNB, alpha=0.45, lw=1.5, marker='s', ms=2.5)
ax.plot(i_low_s1_K, i_low_s1, color=C_S1, alpha=0.45, lw=1.5, marker='s', ms=2.5)
h_eps = ax.plot(i_epsS_K, i_epsS, color='#6cc36c', ls=':', lw=1.1)[0]
h_s8 = ax.plot(i_K, ms8, ls='', marker='o', ms=2.6, color='#e41a1c')[0]
h_unb = ax.plot(i_K, mu, ls='', marker='o', ms=2.6, color=C_UNB)[0]
h_s1 = ax.plot(i_s1_K, i_s1, ls='', marker='o', ms=2.6, color=C_S1)[0]
h_pac = ax.plot(i_pac_K, i_pac, color='#1f5a2a', lw=1.1)[0]
h_pacb = ax.plot(i_pacb_K, i_pacb, color='#3aa64a', lw=1.1)[0]
ax.axvline(i_target, color='#777777', ls='--', lw=0.9)
ax.set_xlim(0, 160)
ax.set_ylim(-0.066, 0.66)
ax.set_xticks([0, 40, 80, 120, 160])
ax.set_yticks([0.0, 0.2, 0.4, 0.6])
ax.set_xlabel('Cutoff LZ Complexity (Model Capacity)', fontsize=LBL, labelpad=1)
ax.set_ylabel('Error', fontsize=LBL, labelpad=1)
style(ax)
lg = fig.legend(handles=[h_eps, h_s1, h_unb, h_s8, h_pac, h_pacb],
                labels=[r'$\epsilon_S$ | unbiased', r'$\epsilon_G$ | 1 | 10', r'$\epsilon_G$ unbiased',
                        r'$\epsilon_G$ | 8 | 10', 'PAC', 'PAC-Bayes'],
                ncol=3, fontsize=4.3, loc='center', bbox_to_anchor=(597 / W, 1 - 422 / H),
                handlelength=2.0, borderpad=0.35, labelspacing=0.3, columnspacing=1.0, handletextpad=0.5)
lg.get_frame().set_linewidth(0.5)

# ---------------- TEXT (justified word by word) ----------------
renderer = fig.canvas.get_renderer()
PPT = 100 / 72.0


def split_tokens(s):
    toks, cur, inm = [], '', False
    for ch in s:
        if ch == '$':
            inm = not inm
        if ch == ' ' and not inm:
            if cur:
                toks.append(cur)
            cur = ''
        else:
            cur += ch
    if cur:
        toks.append(cur)
    return toks


def parse(line):
    out, bold = [], False
    for t in split_tokens(line):
        b = bold
        if t.startswith('**'):
            t = t[2:]
            b = True
            bold = True
        if t.endswith('**'):
            t = t[:-2]
            bold = False
        out.append((t, b))
    return out


def mk(t, b, size):
    o = fig.text(0, 0, t, fontsize=size, family='cmb10' if b else 'cmr10',
                 math_fontfamily='cm', va='baseline', ha='left')
    try:
        w = o.get_window_extent(renderer).width
    except Exception:
        o.set_text(t.replace(r'\lesssim', r'\leq').replace(r'\gtrsim', r'\geq'))
        w = o.get_window_extent(renderer).width
    return o, w


def widths(items, size):
    ow = [mk(t, b, size) for t, b in items]
    ws = [w for _, w in ow]
    for o, _ in ow:
        o.remove()
    return ws


def block(lines, x0, x1, y0, dy, size, justify_last, min_gap=0.2):
    parsed = [parse(l) for l in lines]
    for items in parsed:
        need = sum(widths(items, size)) + min_gap * size * PPT * (len(items) - 1)
        if need > (x1 - x0):
            size = size * (x1 - x0) / need
    for i, items in enumerate(parsed):
        y = y0 + i * dy
        ow = [mk(t, b, size) for t, b in items]
        ws = [w for _, w in ow]
        n = len(ow)
        last = (i == len(parsed) - 1) and not justify_last
        if n > 1 and not last:
            gap = (x1 - x0 - sum(ws)) / (n - 1)
        else:
            gap = 0.333 * size * PPT
        x = x0
        for (o, w) in ow:
            o.set_position((round(x) / W, 1 - round(y) / H))
            x += w + gap
    return size


caption = [
    r"FIG. 1: **Priors over functions and over complexity** (a) Prior $P(f)$ that a $N_l$-layer FCN with tanh activations generates",
    r"$n=7$ Boolean functions $f$, ranked by probability of individual functions, generated from $10^8$ random samples of parameters $\Theta$",
    r"over a Gaussian $P_{\mathrm{par}}(\Theta)$ with standard deviations $\sigma_w=1\ldots8$. Also compared is a ReLU-activated DNN. The dotted blue line",
    r"denotes a Zipf's law prior [10] $P(f)=1/((128\ln2)Rank(f))$. (b) $P(f)$ versus LZ complexity $K$ for the networks from (a). (c)",
    r"generalization error versus $K$ of the target function for an unbiased learner (green), and $\sigma_w=1,8$ tanh networks trained to zero",
    r"error with advSGD [10] on cross-entropy loss with training set $S$ of size $m=64$, for 1000 random initialisations. The error is",
    r"calculated on the remaining $|T|=64$ functions. Error bars are one standard deviation. (d), (e), (f) Scatterplots of generalization",
    r"error versus learned function LZ complexity, from 1000 random initialisations for three target functions from subfigure (c). The",
    r"dashed vertical line denotes the target function complexity. The black cross represents the mode function. The histograms at the",
    r"top (side) of the plots show the posterior probability upon training as a function of complexity,$P_{\mathrm{SGD}}(K|S)\ $(error,$P_{\mathrm{SGD}}(\epsilon_G|S)$).",
    r"(g) The prior probability $P(K)$ to obtain a function of LZ complexity $K$ for uniform random sampling of $10^8$, compared to a",
    r"theoretical perfect compressor. 90% of the probability mass lies to the right of the vertical dotted lines, and the dash-dot line",
    r"denotes an extrapolation to low $K$. (h) $P(K)$ is relatively uniform on $K$ for the $\sigma_w=1$ system, while it is highly biased towards",
    r"complex functions for the $\sigma_w=8$ networks. The large difference in these priors helps explain the significant variation in DNN",
    r"performance. (i) generalization error for the K-learning restriction for the $\sigma_w=1,8$ DNNs and for an unbiased learner, all for",
    r"$|S|=100$. $\epsilon_S$ is the training error and $\epsilon_G$ is the generalization error on the test set. The vertical dashed line is the complexity",
    r"$K_t$ of the target. Also compared are the standard realisable PAC and marginal-likelihood PAC-Bayes bounds for the unbiased",
    r"learner. In $10^4$ samples, no solutions were found with $K\lesssim70$ for the $\sigma_w=8$ DNN, and with $K\gtrsim70$ for $\sigma_w=1$ DNN.",
]
cap_size = block(caption, 96, 700, 586.5, 13.85, 8.6, False, min_gap=0.3)

body_left = [
    r"miser, with initial parameters taken from $P_{\mathrm{par}}(\sigma_w)$, are",
    r"used. The generalization error and complexity of each",
    r"function found when the DNN first reaches zero training",
    r"error are plotted. Since there are $2^{64}$ possible functions",
    r"that give zero error on the training set $S$, it is not surpris-",
]
body_right = [
    r"ing that the DNN converges to many different functions",
    r"upon different random initialisations. For the $\sigma_w=1$",
    r"network (where $P(f)$ resembles that of ReLU networks)",
    r"the most common function is typically simpler than the",
    r"target. By contrast, the less biased network converges",
]
block(body_left, 97, 378, 861.5, 14.3, 9.5, True, min_gap=0.25)
block(body_right, 410, 700, 861.5, 14.3, 9.5, True, min_gap=0.25)

subcaps = [
    (215, 215, r"(a) Prior $P(f)$ versus rank."),
    (414, 215, r"(b) Prior $P(f)$ versus complexity"),
    (605, 215, r"(c) generalization error vs K"),
    (202, 398, r"(d) Target function LZ $=$ 31.5"),
    (402, 398, r"(e) Target function LZ $=$ 66.5"),
    (603, 398, r"(f) Target function LZ $=$ 101.5"),
    (206, 562, r"(g) Prior $P(K)$ for uniform sampling"),
    (405, 562, r"(h) Prior $P(K)$ for $\sigma_w=1,8$"),
    (608, 562, r"(i) Bias variance"),
]
for x, y, s in subcaps:
    fig.text(x / W, 1 - y / H, s, fontsize=8.4, family='cmr10', math_fontfamily='cm',
             ha='center', va='center')

fig.text(719 / W, 1 - 42 / H, '3', fontsize=8.6, family='cmr10', ha='center', va='center')

fig.savefig('out.png', dpi=100)
